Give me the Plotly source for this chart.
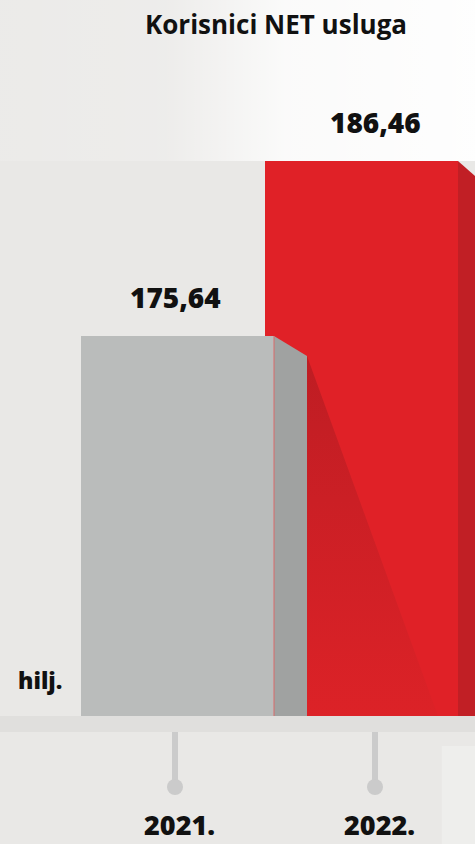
import plotly.graph_objects as go

# ---- data ----
years = ["2021.", "2022."]
values = [175.64, 186.46]
value_labels = ["175,64", "186,46"]
title_text = "Korisnici NET usluga"
unit_text = "hilj."

# ---- styling ----
W, H = 475, 844
PLOT_H = 716                 # pixel height of plotting area (baseline at y=716)
PX_PER_UNIT_X = 184.0        # px between bar centres
FIRST_BAR_PX = 177.5         # px of first bar centre
PX_PER_UNIT_Y = 16.174       # px per value unit (truncated axis)
Y_MIN = 152.146
BAR_W = 193 / PX_PER_UNIT_X
front_colors = ["#babcbb", "#e02127"]
side_colors = ["#a0a2a1", "#c11f25"]
side_depth_px = [33, 33]
side_drop_px = [20, 29]
FONT = "Open Sans"

y_max = Y_MIN + PLOT_H / PX_PER_UNIT_Y
x_lo = -FIRST_BAR_PX / PX_PER_UNIT_X
x_hi = (W - FIRST_BAR_PX) / PX_PER_UNIT_X
# tick axis (x2): ticks at 175 px and 375 px
TICK0_PX, TICK_STEP_PX = 175.0, 200.0
x2_lo = -TICK0_PX / TICK_STEP_PX
x2_hi = (W - TICK0_PX) / TICK_STEP_PX

fig = go.Figure()

xs = list(range(len(years)))

# red (2022) bar first so the grey one lies in front of it
for i in reversed(xs):
    fig.add_trace(go.Bar(
        x=[i], y=[values[i]], width=BAR_W,
        marker=dict(color=front_colors[i], line=dict(width=0)),
        hoverinfo="skip", showlegend=False))

# soft light background band above the bars (no overlap with bars)
top_band_y = values[1]
fig.add_trace(go.Scatter(
    x=[x_lo, x_hi, x_hi, x_lo, x_lo], y=[top_band_y, top_band_y, y_max, y_max, top_band_y],
    mode="lines", line=dict(width=0), fill="toself",
    fillgradient=dict(type="horizontal",
                      colorscale=[[0, "rgba(255,255,255,0.12)"], [0.35, "rgba(255,255,255,0.2)"],
                                  [0.6, "rgba(255,255,255,0.8)"], [1, "rgba(255,255,255,0.95)"]]),
    hoverinfo="skip", showlegend=False))

# shadow cast by the grey bar on the red bar
gx = xs[0] + BAR_W / 2 + side_depth_px[0] / PX_PER_UNIT_X
gy = values[0] - side_drop_px[0] / PX_PER_UNIT_Y
shadow_end_x = xs[0] + (438 - FIRST_BAR_PX) / PX_PER_UNIT_X
fig.add_trace(go.Scatter(
    x=[gx, shadow_end_x, gx, gx], y=[gy, Y_MIN, Y_MIN, gy],
    mode="lines", line=dict(width=0), fill="toself",
    fillgradient=dict(type="vertical",
                      colorscale=[[0, "#dc2227"], [0.6, "#cb1f25"], [1, "#be1d23"]]),
    hoverinfo="skip", showlegend=False))

shapes = []
px = 1.0 / PLOT_H
# background: light patch bottom right
shapes.append(dict(type="rect", xref="paper", yref="paper", x0=0.93, x1=1.0,
                   y0=-128 * px, y1=-30 * px, fillcolor="rgba(255,255,255,0.25)",
                   line=dict(width=0), layer="below"))

# 3D side faces
for i in xs:
    xr = i + BAR_W / 2
    dx = side_depth_px[i] / PX_PER_UNIT_X
    dy = side_drop_px[i] / PX_PER_UNIT_Y
    path = (f"M {xr},{Y_MIN} L {xr},{values[i]} L {xr+dx},{values[i]-dy} "
            f"L {xr+dx},{Y_MIN} Z")
    shapes.append(dict(type="path", xref="x", yref="y", path=path,
                       fillcolor=side_colors[i], line=dict(width=0), layer="above"))
# thin red edge on grey bar
xr0 = xs[0] + BAR_W / 2
shapes.append(dict(type="line", xref="x", yref="y", x0=xr0, x1=xr0,
                   y0=Y_MIN, y1=values[0], line=dict(color="#d86a6a", width=1),
                   layer="above"))

# axis band
shapes.append(dict(type="rect", xref="paper", yref="paper", x0=0, x1=1,
                   y0=-16 * px, y1=0, fillcolor="#e0dfdd", line=dict(width=0),
                   layer="above"))
# tick stems and dots
for i in xs:
    shapes.append(dict(type="line", xref="x2", yref="paper", x0=i, x1=i,
                       y0=-16 * px, y1=-71 * px,
                       line=dict(color="#cbcbcb", width=6), layer="above"))
    shapes.append(dict(type="circle", xref="x2", yref="paper",
                       x0=i - 8 / TICK_STEP_PX, x1=i + 8 / TICK_STEP_PX,
                       y0=-(71 - 8) * px, y1=-(71 + 8) * px,
                       fillcolor="#cbcbcb", line=dict(width=0), layer="above"))

annotations = []
for i in xs:
    annotations.append(dict(x=i, y=values[i], xref="x2", yref="y",
                            text=value_labels[i], showarrow=False,
                            xanchor="center", yanchor="middle", yshift=39,
                            font=dict(family=FONT, size=28, color="#111111", weight=800)))
    annotations.append(dict(x=i, y=-108 * px, xref="x2", yref="paper",
                            text=years[i], showarrow=False, xshift=4,
                            xanchor="center", yanchor="middle",
                            font=dict(family=FONT, size=27, color="#111111", weight=800)))
annotations.append(dict(x=40 / W, y=(PLOT_H - 680) * px, xref="paper", yref="paper",
                        text=unit_text, showarrow=False, xanchor="center", yanchor="middle",
                        font=dict(family=FONT, size=23, color="#111111", weight=800)))
annotations.append(dict(x=276 / W, y=(PLOT_H - 24) * px, xref="paper", yref="paper",
                        text=title_text, showarrow=False, xanchor="center", yanchor="middle",
                        font=dict(family=FONT, size=26, color="#111111", weight=700)))

fig.update_layout(
    width=W, height=H,
    margin=dict(l=0, r=0, t=0, b=H - PLOT_H, pad=0),
    paper_bgcolor="#e9e8e6", plot_bgcolor="rgba(0,0,0,0)",
    barmode="overlay", bargap=0,
    xaxis=dict(range=[x_lo, x_hi], visible=False, fixedrange=True),
    xaxis2=dict(range=[x2_lo, x2_hi], visible=False, overlaying="x",
                fixedrange=True),
    yaxis=dict(range=[Y_MIN, y_max], visible=False, fixedrange=True),
    shapes=shapes, annotations=annotations, showlegend=False,
)

fig.write_html("out.html", config={"displayModeBar": False},
               post_script="document.body.style.margin='0';document.body.style.overflow='hidden';")
